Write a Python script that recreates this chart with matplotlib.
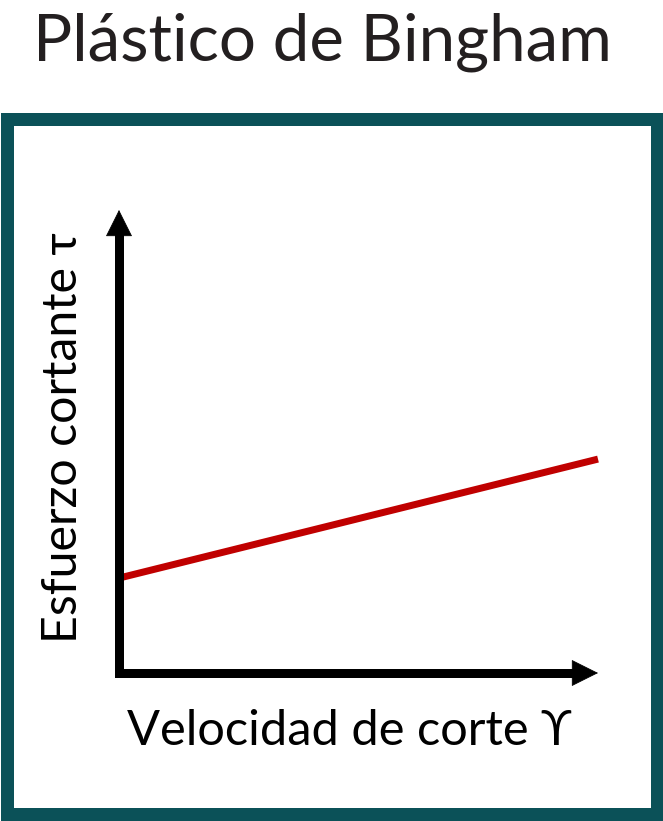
import matplotlib
matplotlib.use("Agg")
import matplotlib.pyplot as plt
from matplotlib.patches import Rectangle

# ---- data ----
shear_rate = [0, 10]            # Velocidad de corte
shear_stress = [2.05, 4.62]     # Esfuerzo cortante (yield stress at 0)
title_text = "Plástico de Bingham"
xlabel_text = "Velocidad de corte ϒ"
ylabel_text = "Esfuerzo cortante τ"

W, H = 663, 821
DPI = 100
FAM = ['Lato', 'DejaVu Sans']
TEAL = '#0b5158'
RED = '#c00000'

fig = plt.figure(figsize=(W / DPI, H / DPI), dpi=DPI)
fig.patch.set_facecolor('white')

def px(x, y_top):
    return x / W, (H - y_top) / H

# axes: left at x=119, right 598, bottom y=673, top y=210 (pixels from top)
l, b = px(119, 673)
r, t = px(598, 210)
ax = fig.add_axes([l, b, r - l, t - b])
ax.set_xlim(0, 10)
ax.set_ylim(0, 10)
ax.set_xticks([])
ax.set_yticks([])
for s in ['top', 'right']:
    ax.spines[s].set_visible(False)
for s in ['left', 'bottom']:
    ax.spines[s].set_linewidth(9 * 72 / DPI)
    ax.spines[s].set_color('black')
    ax.spines[s].set_capstyle('projecting')
ax.spines['left'].set_bounds(0, 9.6)
ax.spines['bottom'].set_bounds(0, 9.6)
ax.patch.set_alpha(0)

ax.plot(shear_rate, shear_stress, color=RED, lw=7 * 72 / DPI,
        solid_capstyle='butt', clip_on=False, zorder=1)

# arrow heads (filled triangles, 25px long, 25px wide)
hl = 25 * 72 / DPI  # points
ap = dict(arrowstyle=f'-|>,head_length={hl/20:.3f},head_width={hl/40:.3f}',
          mutation_scale=20, lw=0.5, color='black', shrinkA=0, shrinkB=0)
ax.annotate('', xy=(0, 1), xytext=(0, 0.9), xycoords='axes fraction',
            textcoords='axes fraction', arrowprops=ap, zorder=5)
ax.annotate('', xy=(1, 0), xytext=(0.9, 0), xycoords='axes fraction',
            textcoords='axes fraction', arrowprops=ap, zorder=5)

# border
bw = 13
bx0, by0 = (bw / 2) / W, (H - (820 - bw / 2)) / H
rect = Rectangle((bx0, by0), (W - bw) / W, ((820 - bw / 2) - (113 + bw / 2)) / H,
                 transform=fig.transFigure, fill=False, edgecolor=TEAL,
                 lw=bw * 72 / DPI, joinstyle='miter')
fig.patches.append(rect)

renderer = fig.canvas.get_renderer()

def fit(txt, target_w, **kw):
    size = 30
    t = fig.text(0, 0, txt, fontsize=size, family=FAM, **kw)
    for _ in range(3):
        bb = t.get_window_extent(renderer)
        w = bb.width if kw.get('rotation', 0) == 0 else bb.height
        size *= target_w / w
        t.set_fontsize(size)
    return t

tt = fit(title_text, 579, color='#231f20', ha='center', va='baseline')
tt.set_position(px(322.5, 60))

xl = fit(xlabel_text, 445, color='black', ha='left', va='baseline')
xl.set_position(px(127, 745))

yl = fit(ylabel_text, 411, color='black', ha='center', va='baseline',
         rotation=90, rotation_mode='anchor')
yl.set_position(px(77, (643 + 232) / 2))

fig.savefig('out.png', dpi=DPI, facecolor='white')
